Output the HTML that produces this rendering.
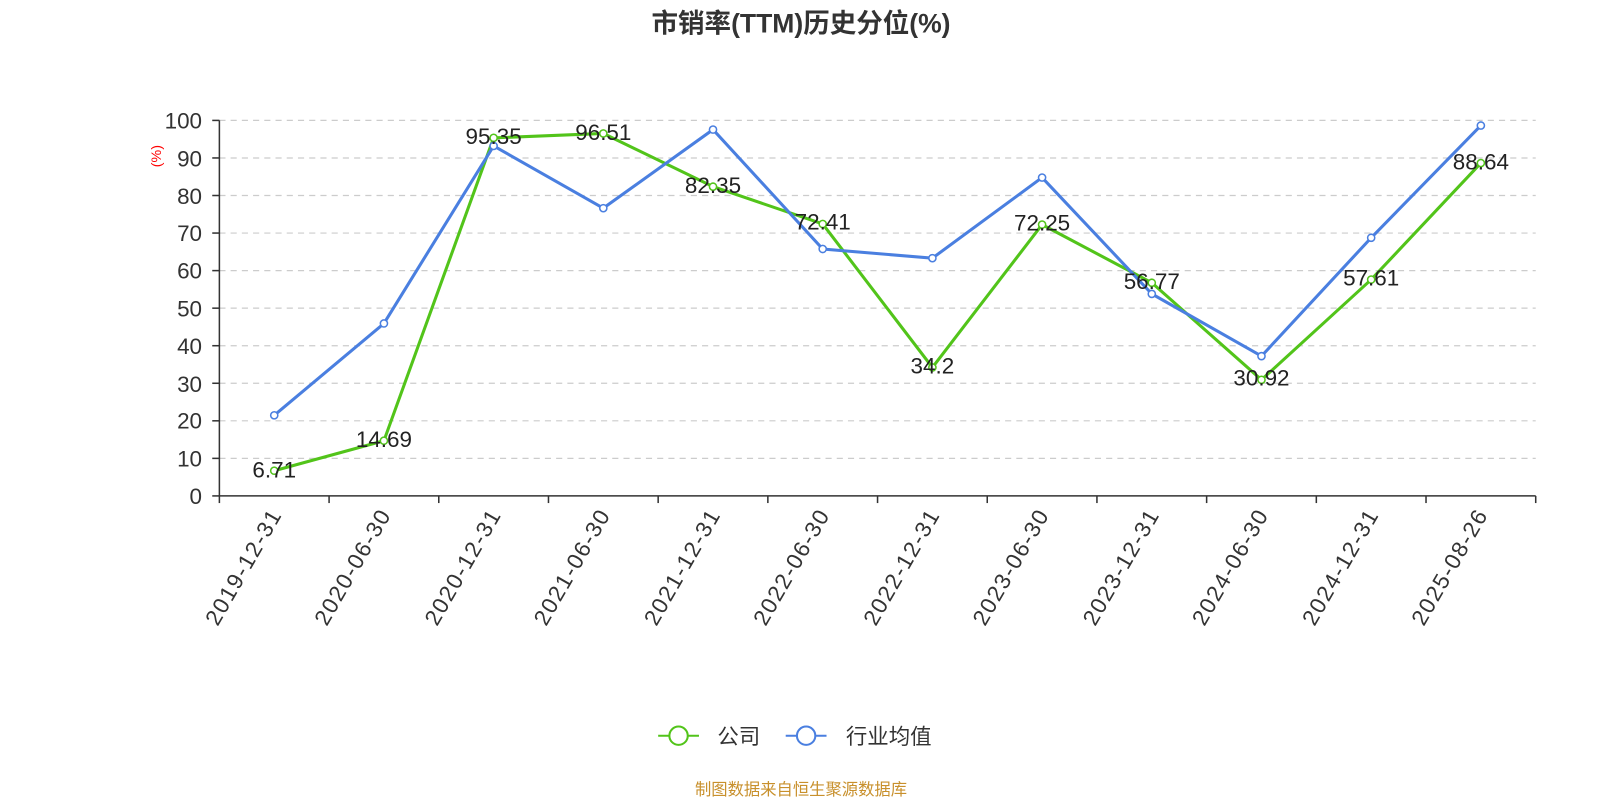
<!DOCTYPE html>
<html><head><meta charset="utf-8"><style>
body{margin:0;background:#fff;}
svg{display:block;}
text{font-family:"Liberation Sans","Noto Sans CJK SC",sans-serif;}
</style></head><body>
<svg width="1600" height="800" viewBox="0 0 1568 784" preserveAspectRatio="none" xmlns="http://www.w3.org/2000/svg">
<rect width="1568" height="784" fill="#fff"/>
<text x="785" y="32" text-anchor="middle" font-size="26" font-weight="bold" fill="#333">市销率(TTM)历史分位(%)</text>
<g stroke="#ccc" stroke-dasharray="6,5" stroke-width="1.2">
<line x1="215" x2="1505" y1="118" y2="118"/><line x1="215" x2="1505" y1="154.8" y2="154.8"/>
<line x1="215" x2="1505" y1="191.6" y2="191.6"/><line x1="215" x2="1505" y1="228.4" y2="228.4"/>
<line x1="215" x2="1505" y1="265.2" y2="265.2"/><line x1="215" x2="1505" y1="302" y2="302"/>
<line x1="215" x2="1505" y1="338.8" y2="338.8"/><line x1="215" x2="1505" y1="375.6" y2="375.6"/>
<line x1="215" x2="1505" y1="412.4" y2="412.4"/><line x1="215" x2="1505" y1="449.2" y2="449.2"/>
</g>
<g stroke="#333" stroke-width="1.5">
<line x1="215" x2="215" y1="118" y2="486"/><line x1="215" x2="1505" y1="486" y2="486"/>
<line x1="208" x2="215" y1="118" y2="118"/><line x1="208" x2="215" y1="154.8" y2="154.8"/><line x1="208" x2="215" y1="191.6" y2="191.6"/><line x1="208" x2="215" y1="228.4" y2="228.4"/><line x1="208" x2="215" y1="265.2" y2="265.2"/><line x1="208" x2="215" y1="302" y2="302"/><line x1="208" x2="215" y1="338.8" y2="338.8"/><line x1="208" x2="215" y1="375.6" y2="375.6"/><line x1="208" x2="215" y1="412.4" y2="412.4"/><line x1="208" x2="215" y1="449.2" y2="449.2"/><line x1="208" x2="215" y1="486" y2="486"/>
<line x1="215" x2="215" y1="486" y2="493"/><line x1="322.5" x2="322.5" y1="486" y2="493"/><line x1="430" x2="430" y1="486" y2="493"/><line x1="537.5" x2="537.5" y1="486" y2="493"/><line x1="645" x2="645" y1="486" y2="493"/><line x1="752.5" x2="752.5" y1="486" y2="493"/><line x1="860" x2="860" y1="486" y2="493"/><line x1="967.5" x2="967.5" y1="486" y2="493"/><line x1="1075" x2="1075" y1="486" y2="493"/><line x1="1182.5" x2="1182.5" y1="486" y2="493"/><line x1="1290" x2="1290" y1="486" y2="493"/><line x1="1397.5" x2="1397.5" y1="486" y2="493"/><line x1="1505" x2="1505" y1="486" y2="493"/>
</g>
<g font-size="22" fill="#333" text-anchor="end">
<text x="198" y="126">100</text><text x="198" y="163">90</text><text x="198" y="200">80</text><text x="198" y="236">70</text><text x="198" y="273">60</text><text x="198" y="310">50</text><text x="198" y="347">40</text><text x="198" y="384">30</text><text x="198" y="420">20</text><text x="198" y="457">10</text><text x="198" y="494">0</text>
</g>
<text x="158" y="153" font-size="14" fill="red" text-anchor="middle" transform="rotate(-90 158 153)">(%)</text>
<g font-size="22" fill="#333" text-anchor="end" letter-spacing="1.5">
<text transform="translate(277,504) rotate(-60)">2019-12-31</text>
<text transform="translate(384,504) rotate(-60)">2020-06-30</text>
<text transform="translate(492,504) rotate(-60)">2020-12-31</text>
<text transform="translate(599,504) rotate(-60)">2021-06-30</text>
<text transform="translate(707,504) rotate(-60)">2021-12-31</text>
<text transform="translate(814,504) rotate(-60)">2022-06-30</text>
<text transform="translate(922,504) rotate(-60)">2022-12-31</text>
<text transform="translate(1029,504) rotate(-60)">2023-06-30</text>
<text transform="translate(1137,504) rotate(-60)">2023-12-31</text>
<text transform="translate(1244,504) rotate(-60)">2024-06-30</text>
<text transform="translate(1352,504) rotate(-60)">2024-12-31</text>
<text transform="translate(1459,504) rotate(-60)">2025-08-26</text>
</g>
<polyline fill="none" stroke="#52c41a" stroke-width="3" points="268.75,461.3 376.25,431.9 483.75,135.1 591.25,130.8 698.75,182.9 806.25,219.5 913.75,360.1 1021.25,220.1 1128.75,277.1 1236.25,372.2 1343.75,274 1451.25,159.8"/>
<polyline fill="none" stroke="#4a7fe0" stroke-width="3" points="268.75,407 376.25,317 483.75,143 591.25,204 698.75,127 806.25,244 913.75,253 1021.25,174 1128.75,288 1236.25,349 1343.75,233 1451.25,123"/>
<g fill="#fff" stroke="#52c41a" stroke-width="1.5">
<circle cx="268.75" cy="461.3" r="3.5"/><circle cx="376.25" cy="431.9" r="3.5"/><circle cx="483.75" cy="135.1" r="3.5"/><circle cx="591.25" cy="130.8" r="3.5"/><circle cx="698.75" cy="182.9" r="3.5"/><circle cx="806.25" cy="219.5" r="3.5"/><circle cx="913.75" cy="360.1" r="3.5"/><circle cx="1021.25" cy="220.1" r="3.5"/><circle cx="1128.75" cy="277.1" r="3.5"/><circle cx="1236.25" cy="372.2" r="3.5"/><circle cx="1343.75" cy="274" r="3.5"/><circle cx="1451.25" cy="159.8" r="3.5"/>
</g>
<g fill="#fff" stroke="#4a7fe0" stroke-width="1.5">
<circle cx="268.75" cy="407" r="3.5"/><circle cx="376.25" cy="317" r="3.5"/><circle cx="483.75" cy="143" r="3.5"/><circle cx="591.25" cy="204" r="3.5"/><circle cx="698.75" cy="127" r="3.5"/><circle cx="806.25" cy="244" r="3.5"/><circle cx="913.75" cy="253" r="3.5"/><circle cx="1021.25" cy="174" r="3.5"/><circle cx="1128.75" cy="288" r="3.5"/><circle cx="1236.25" cy="349" r="3.5"/><circle cx="1343.75" cy="233" r="3.5"/><circle cx="1451.25" cy="123" r="3.5"/>
</g>
<g font-size="22" fill="#222" text-anchor="middle">
<text x="268.75" y="468">6.71</text><text x="376.25" y="438">14.69</text><text x="483.75" y="141">95.35</text><text x="591.25" y="137">96.51</text><text x="698.75" y="189">82.35</text><text x="806.25" y="225">72.41</text><text x="913.75" y="366">34.2</text><text x="1021.25" y="226">72.25</text><text x="1128.75" y="283">56.77</text><text x="1236.25" y="378">30.92</text><text x="1343.75" y="280">57.61</text><text x="1451.25" y="166">88.64</text>
</g>
<line x1="645" x2="685" y1="721" y2="721" stroke="#52c41a" stroke-width="2"/>
<circle cx="665" cy="721" r="9" fill="#fff" stroke="#52c41a" stroke-width="2"/>
<text x="703" y="729" font-size="21" fill="#333">公司</text>
<line x1="770" x2="810" y1="721" y2="721" stroke="#4a7fe0" stroke-width="2"/>
<circle cx="790" cy="721" r="9" fill="#fff" stroke="#4a7fe0" stroke-width="2"/>
<text x="829" y="729" font-size="21" fill="#333">行业均值</text>
<text x="785" y="779" font-size="16" fill="#c8902c" text-anchor="middle">制图数据来自恒生聚源数据库</text>
</svg>
</body></html>
